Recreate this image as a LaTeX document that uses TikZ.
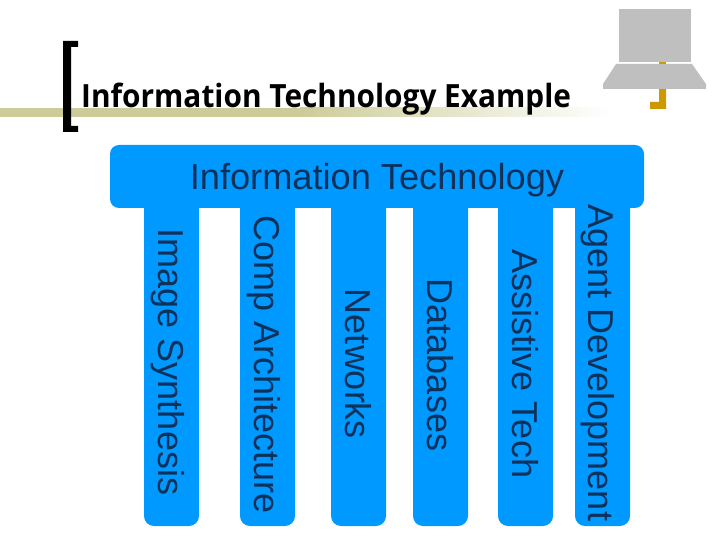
\documentclass[tikz,border=0pt]{standalone}
\usepackage{fontspec}
\usepackage{graphicx}
\setmainfont{Liberation Sans}
\newfontfamily\titlefont{Open Sans}
\definecolor{barblue}{RGB}{0,153,255}
\definecolor{inkblue}{RGB}{12,50,92}
\definecolor{olive}{RGB}{204,204,153}
\definecolor{gold}{RGB}{204,153,0}
\definecolor{lapgrey}{RGB}{191,191,191}
\tikzset{
  x=1pt,y=-1pt,
  bluefill/.style={fill=barblue,draw=none},
  coltext/.style={anchor=base,rotate=-90,text=inkblue,font=\fontsize{36}{36}\selectfont,inner sep=0pt},
  headtext/.style={anchor=base,text=inkblue,font=\fontsize{36.2}{36}\selectfont,inner sep=0pt},
  titletext/.style={anchor=base west,text=black,font=\titlefont\bfseries\fontsize{32}{32}\selectfont,inner sep=0pt}
}
\newcommand{\pillar}[1]{\fill[bluefill,rounded corners=10pt] (#1,190) -- (#1+55,190) -- (#1+55,526) -- (#1,526) -- cycle;}
\begin{document}
\begin{tikzpicture}
\useasboundingbox (0,0) rectangle (720,540);
\fill[white] (0,0) rectangle (720,540);
% rule
\fill[olive] (0,108) rectangle (300,117);
\shade[left color=olive,right color=white,draw=none] (300,108) rectangle (610,117);
% bracket
\fill[black] (63,41) -- (78,41) -- (78,47) -- (71,47) -- (71,126) -- (78,126) -- (78,132) -- (63,132) -- cycle;
% laptop logo
\fill[gold] (659,62) rectangle (666,64);
\fill[gold] (659,89) -- (666,89) -- (666,109) -- (650,109) -- (650,102) -- (659,102) -- cycle;
\fill[lapgrey] (619,9) rectangle (691,62);
\fill[lapgrey] (616,64) -- (692,64) -- (706,84) -- (706,89) -- (603,89) -- (603,84) -- cycle;
% title
\node[titletext] (title) at (81,108) {\scalebox{0.932}[1]{Information Technology Example}};
% pillars
\pillar{144}
\pillar{240}
\pillar{331}
\pillar{413}
\pillar{498}
\pillar{575}
\fill[bluefill,rounded corners=9pt] (110,145) rectangle (644,208);
\node[headtext] (head) at (377,190) {Information Technology};
\node[coltext] (c1) at (158.5,362) {Image Synthesis};
\node[coltext] (c2) at (254,365) {Comp Architecture};
\node[coltext] (c3) at (345,364) {Networks};
\node[coltext] (c4) at (427,365) {Databases};
\node[coltext] (c5) at (512,364) {Assistive Tech};
\node[coltext] (c6) at (588.5,363) {Agent Development};
\end{tikzpicture}
\end{document}
